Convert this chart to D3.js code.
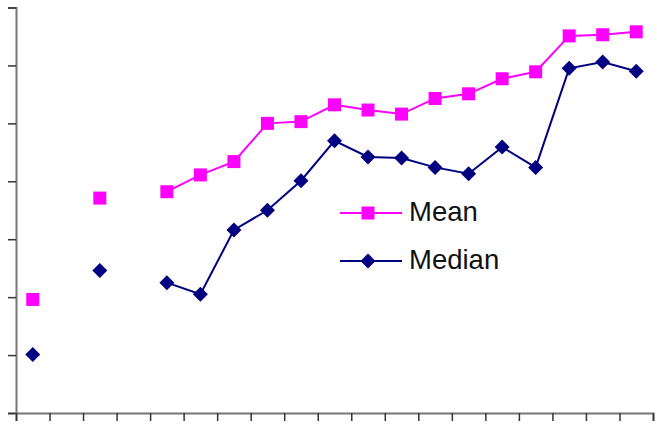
<!DOCTYPE html>
<html lang="en">
<head>
  <meta charset="UTF-8">
  <title>Mean and Median</title>
  <script src="https://d3js.org/d3.v7.min.js"></script>
  <style>
    body { margin: 0; background: #fff; }
    svg { display: block; font-family: "Liberation Sans", Arial, sans-serif; }
  </style>
</head>
<body>
  <svg id="chart" width="657" height="435"></svg>
  <script>
    // Categories (no labels are shown on the axis)
    const categories = d3.range(1, 20).map(String);
    const meanValues = [1.96, null, 3.71, null, 3.82, 4.11, 4.34, 5.00, 5.03, 5.32,
                        5.23, 5.16, 5.43, 5.51, 5.77, 5.89, 6.51, 6.53, 6.58];
    const medianValues = [1.01, null, 2.46, null, 2.25, 2.05, 3.16, 3.50, 4.01, 4.70,
                          4.42, 4.40, 4.24, 4.13, 4.59, 4.24, 5.95, 6.06, 5.90];
    const yTicks = [0, 1, 2, 3, 4, 5, 6, 7];

    const svg = d3.select("#chart");
    const plot = { left: 16, right: 653, top: 7.5, bottom: 413 };

    const x = d3.scaleLinear().domain([0, categories.length]).range([plot.left, plot.right]);
    const y = d3.scaleLinear().domain([0, 7]).range([plot.bottom, plot.top]);

    // y axis
    const yAxis = svg.append("g")
      .attr("transform", `translate(${plot.left},0)`)
      .call(d3.axisLeft(y).tickValues(yTicks).tickSize(8).tickFormat(""));
    // x axis
    const xAxis = svg.append("g")
      .attr("transform", `translate(0,${plot.bottom})`)
      .call(d3.axisBottom(x).tickValues(d3.range(categories.length + 1)).tickSize(8).tickFormat(""));

    [yAxis, xAxis].forEach(a => {
      a.select(".domain").attr("stroke", "#777").attr("stroke-width", 2);
      a.selectAll(".tick line").attr("stroke", "#333").attr("stroke-width", 1.5);
    });

    const series = [
      { name: "Mean", values: meanValues, color: "#ff00ff", shape: "square" },
      { name: "Median", values: medianValues, color: "#000080", shape: "diamond" }
    ];

    const line = d3.line()
      .defined(d => d.v !== null)
      .x(d => x(d.i + 0.5))
      .y(d => y(d.v));

    function marker(g, shape, color) {
      if (shape === "square") {
        g.append("rect").attr("x", -6.5).attr("y", -6.5).attr("width", 13).attr("height", 13)
          .attr("fill", color);
      } else {
        g.append("path").attr("d", "M0,-7.5L7.5,0L0,7.5L-7.5,0Z").attr("fill", color);
      }
    }

    series.forEach(s => {
      const pts = s.values.map((v, i) => ({ i, v }));
      svg.append("path")
        .datum(pts)
        .attr("fill", "none")
        .attr("stroke", s.color)
        .attr("stroke-width", 2)
        .attr("d", line);
      pts.filter(d => d.v !== null).forEach(d => {
        const g = svg.append("g").attr("transform", `translate(${x(d.i + 0.5)},${y(d.v)})`);
        marker(g, s.shape, s.color);
      });
    });

    // legend
    const legend = svg.append("g").attr("transform", "translate(340,213)");
    series.forEach((s, k) => {
      const row = legend.append("g").attr("transform", `translate(0,${k * 48})`);
      row.append("line").attr("x1", 0).attr("x2", 62).attr("y1", 0).attr("y2", 0)
        .attr("stroke", s.color).attr("stroke-width", 2);
      const m = row.append("g").attr("transform", "translate(28,0)");
      marker(m, s.shape, s.color);
      row.append("text").attr("x", 69).attr("y", 7.5)
        .attr("font-size", 27.5).attr("fill", "#111").text(s.name);
    });
  </script>
</body>
</html>
